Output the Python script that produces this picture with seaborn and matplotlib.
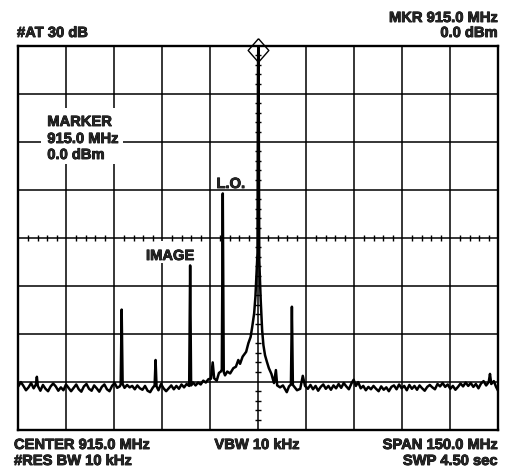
import numpy as np
import pandas as pd
import matplotlib
matplotlib.use('Agg')
import matplotlib.pyplot as plt
import matplotlib.transforms as mtransforms
import matplotlib.patheffects as pe
from matplotlib.patches import Rectangle
import seaborn as sns

# spectrum trace (MHz, dBm)
freq_mhz = [
    840.0, 840.8, 841.6, 842.4, 843.2, 844.0, 844.8, 845.5, 845.8, 846.1,
    846.9, 847.7, 848.5, 849.3, 850.1, 850.9, 851.7, 852.5, 853.3, 854.1,
    854.9, 855.7, 856.5, 857.3, 858.1, 858.9, 859.7, 860.5, 861.3, 862.1,
    862.9, 863.7, 864.5, 865.3, 866.1, 866.9, 867.7, 868.5, 869.3, 870.1,
    870.9, 871.7, 872.0, 872.3, 872.6, 873.2, 874.0, 874.8, 875.6, 876.4,
    877.2, 878.0, 878.8, 879.6, 880.4, 881.2, 882.0, 882.6, 882.9, 883.2,
    883.8, 884.6, 885.4, 886.2, 887.0, 887.8, 888.6, 889.4, 890.2, 891.0,
    891.8, 892.6, 893.4, 893.7, 894.0, 894.6, 895.4, 896.2, 897.0, 897.8,
    898.6, 899.4, 900.2, 900.75, 901.2, 902.0, 902.7, 903.3, 903.6, 903.9,
    904.2, 904.6, 905.3, 906.2, 907.2, 908.0, 908.75, 909.3, 910.1, 911.2,
    911.9, 912.6, 913.1, 913.7, 914.1, 914.4, 914.75, 914.9, 915.0, 915.1,
    915.3, 915.75, 916.2, 916.6, 917.1, 917.7, 918.3, 919.1, 919.9, 920.5,
    920.9, 921.8, 922.7, 923.9, 924.6, 925.2, 925.5, 925.8, 926.4, 927.1,
    928.1, 928.9, 929.6, 930.5, 931.3, 932.1, 932.9, 933.7, 934.5, 935.3,
    936.1, 936.9, 937.7, 938.5, 939.3, 940.1, 940.9, 941.7, 942.5, 943.3,
    944.1, 944.8, 945.5, 946.2, 947.0, 947.8, 948.6, 949.4, 950.2, 951.0,
    951.8, 952.6, 953.4, 954.2, 955.0, 955.8, 956.6, 957.4, 958.2, 959.0,
    959.8, 960.6, 961.4, 962.2, 963.0, 963.8, 964.6, 965.4, 966.2, 967.0,
    967.8, 968.6, 969.4, 970.2, 971.0, 971.8, 972.6, 973.4, 974.2, 975.0,
    975.8, 976.6, 977.4, 978.2, 979.0, 979.8, 980.6, 981.4, 982.2, 983.0,
    983.8, 984.6, 985.4, 986.2, 987.0, 987.4, 987.8, 988.6, 989.3, 990.0,
]
level_dbm = [
    -71.0, -70.1, -70.9, -71.8, -71.2, -70.3, -71.4, -70.6, -69.0, -70.9,
    -71.9, -70.7, -71.5, -72.0, -71.0, -70.4, -71.0, -71.9, -71.2, -71.8,
    -70.6, -71.3, -72.0, -71.3, -70.6, -71.6, -72.1, -71.0, -70.5, -71.5,
    -71.9, -70.8, -71.4, -72.1, -71.1, -70.6, -71.6, -72.0, -70.9, -70.3,
    -71.3, -71.0, -70.6, -55.0, -70.5, -71.3, -70.7, -71.2, -70.9, -71.6,
    -70.8, -71.4, -71.7, -70.9, -71.9, -72.2, -71.3, -70.8, -65.5, -71.0,
    -71.8, -70.5, -71.4, -72.0, -71.4, -70.8, -71.6, -70.9, -71.5, -70.6,
    -71.2, -70.5, -70.9, -45.8, -70.8, -70.2, -70.8, -70.2, -70.6, -69.8,
    -70.2, -69.5, -69.4, -66.0, -69.3, -69.8, -68.2, -67.9, -67.5, -30.8,
    -68.0, -68.7, -67.9, -68.3, -67.2, -66.9, -65.5, -66.3, -64.8, -63.8,
    -62.0, -60.7, -58.6, -55.8, -52.3, -48.2, -43.2, -5.0, 0.0, -5.0,
    -44.7, -53.0, -59.3, -62.4, -64.5, -65.9, -67.2, -68.4, -70.3, -67.6,
    -70.8, -71.2, -70.8, -72.2, -71.0, -70.6, -54.4, -70.7, -71.2, -71.8,
    -71.5, -68.8, -70.9, -71.5, -70.7, -71.6, -70.9, -71.9, -71.1, -70.6,
    -71.5, -70.9, -71.7, -70.8, -71.4, -70.5, -71.3, -70.3, -71.0, -71.6,
    -70.4, -69.6, -70.9, -70.1, -71.4, -70.9, -71.8, -71.1, -71.6, -70.9,
    -71.5, -72.0, -71.0, -71.7, -71.2, -72.0, -71.1, -70.8, -71.6, -70.6,
    -71.4, -70.9, -71.8, -70.7, -71.5, -70.9, -71.7, -70.8, -71.4, -71.9,
    -71.1, -70.7, -71.2, -71.6, -70.5, -71.0, -70.3, -71.1, -70.6, -71.5,
    -70.9, -71.7, -71.1, -70.4, -71.0, -70.2, -70.9, -70.3, -71.1, -70.5,
    -71.4, -70.4, -69.9, -70.8, -70.1, -68.4, -70.5, -69.9, -71.1, -72.0,
]

center_mhz = 915.0
span_mhz = 150.0
ref_dbm = 0.0
db_per_div = 10
n_ydiv = 8
marker_mhz = 915.0
marker_dbm = 0.0

W, H = 510, 469

sns.set_style('white')
plt.rcParams['font.family'] = ['Liberation Sans', 'DejaVu Sans']

df = pd.DataFrame({'freq': freq_mhz, 'level': level_dbm})

fig = plt.figure(figsize=(W / 100, H / 100), dpi=100)
ax = fig.add_axes([18.3 / W, 1 - 429.6 / H, 480 / W, 384 / H])

sns.lineplot(data=df, x='freq', y='level', ax=ax, sort=False, estimator=None,
             color='black', lw=1.8, zorder=5)

x0 = center_mhz - span_mhz / 2
x1 = center_mhz + span_mhz / 2
y0 = ref_dbm - n_ydiv * db_per_div
ax.set_xlim(x0, x1)
ax.set_ylim(y0, ref_dbm)
ax.set_xticks(np.linspace(x0, x1, 11))
ax.set_yticks(np.linspace(y0, ref_dbm, n_ydiv + 1))
ax.grid(True, color='black', lw=1.1)
ax.tick_params(length=0, labelbottom=False, labelleft=False)
ax.set_xlabel('')
ax.set_ylabel('')
for s in ax.spines.values():
    s.set_linewidth(1.7)
    s.set_color('black')

# minor ticks on the centre cross
mid_y = ref_dbm - n_ydiv / 2 * db_per_div
xs = [x for x in np.arange(x0, x1, span_mhz / 50) if abs((x - x0) % (span_mhz / 10)) > 0.01]
ys = [y for y in np.arange(y0, ref_dbm, db_per_div / 5) if abs((y - y0) % db_per_div) > 0.01]
ax.plot(xs, [mid_y] * len(xs), ls='none', marker='|', ms=5, mew=1, color='black', zorder=4)
ax.plot([center_mhz] * len(ys), ys, ls='none', marker='_', ms=5, mew=1, color='black', zorder=4)

# marker diamond
diamond = [(0, 1), (0.875, 0), (0, -1), (-0.875, 0), (0, 1)]
off = mtransforms.offset_copy(ax.transData, fig=fig, y=-4, units='dots')
ax.plot([marker_mhz], [marker_dbm], marker=diamond, ms=17, mfc='none', mec='black',
        mew=1.0, clip_on=False, transform=off, zorder=6)

# white boxes behind the in-graticule labels
for (bx, by, bw, bh) in [(41, 108, 82, 56), (143, 241, 54, 22)]:
    ax.add_patch(Rectangle((bx / W, 1 - (by + bh) / H), bw / W, bh / H,
                           transform=fig.transFigure, fc='white', ec='none', zorder=3))

fs = 10.6
heavy = [pe.withStroke(linewidth=0.6, foreground='black')]
def label(x, y, s, ha='left'):
    fig.text(x / W, 1 - y / H, s, ha=ha, va='baseline', fontsize=fs,
             fontweight='bold', zorder=7, path_effects=heavy)

label(17, 37, '#AT 30 dB')
label(498, 22, 'MKR 915.0 MHz', 'right')
label(498, 37, '0.0 dBm', 'right')
label(47.3, 126, 'MARKER')
label(47.3, 143, '915.0 MHz')
label(47.3, 159, '0.0 dBm')
label(216.5, 188, 'L.O.')
label(146, 260, 'IMAGE')
label(14, 449, 'CENTER 915.0 MHz')
label(14, 465, '#RES BW 10 kHz')
label(257, 449, 'VBW 10 kHz', 'center')
label(498, 449, 'SPAN 150.0 MHz', 'right')
label(498, 465, 'SWP 4.50 sec', 'right')

fig.savefig('out.png', dpi=100)
